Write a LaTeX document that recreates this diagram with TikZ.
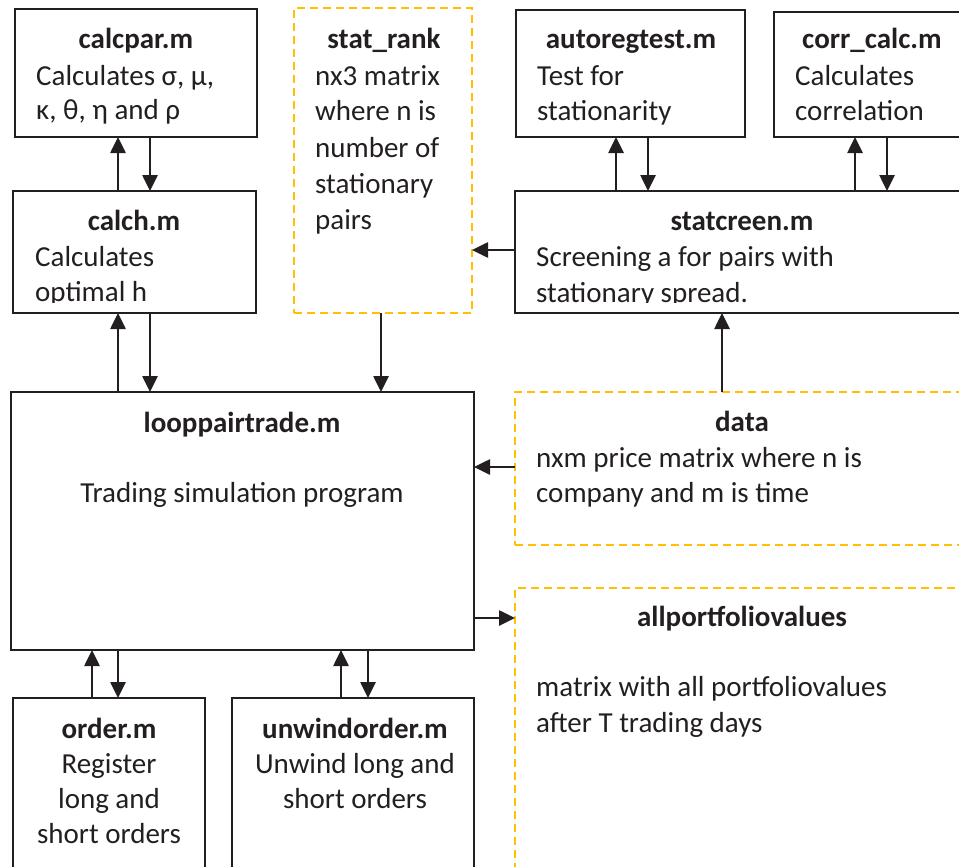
\documentclass[tikz,border=0pt]{standalone}
\usepackage{fontspec}
\setmainfont{Carlito}
\usetikzlibrary{arrows.meta}
\definecolor{ink}{HTML}{231F20}
\definecolor{gold}{HTML}{FFC000}
\begin{document}
\begin{tikzpicture}[x=1pt,y=-1pt,
  every node/.style={font=\fontsize{29}{36}\selectfont},
  box/.style={draw=ink, line width=2.2pt, anchor=north west, inner sep=0pt, outer sep=0pt},
  dbox/.style={draw=gold, line width=2pt, dash pattern=on 8pt off 5pt, anchor=north west, inner sep=0pt, outer sep=0pt},
  ttl/.style={font=\fontsize{29}{36}\selectfont\bfseries, text=ink, anchor=base, inner sep=0pt},
  txt/.style={text=ink, anchor=base west, inner sep=0pt},
  ctxt/.style={text=ink, anchor=base, inner sep=0pt},
  arr/.style={draw=ink, line width=2.6pt, -{Triangle[length=16pt,width=15pt]}}]
\useasboundingbox (0,0) rectangle (959,867);
\clip (0,0) rectangle (959,867);

% boxes
\node[box, minimum width=242pt, minimum height=128pt] (calcpar) at (15,9) {};
\node[box, minimum width=243pt, minimum height=122pt] (calch) at (13,191) {};
\node[dbox, minimum width=178pt, minimum height=305pt] (statrank) at (294,8) {};
\node[box, minimum width=229pt, minimum height=127pt] (autoreg) at (516,10) {};
\node[box, minimum width=200pt, minimum height=125pt] (corrcalc) at (774,12) {};
\node[box, minimum width=460pt, minimum height=122pt] (statcreen) at (515,191) {};
\node[box, minimum width=463pt, minimum height=258pt] (loop) at (11,392) {};
\node[dbox, minimum width=460pt, minimum height=153pt] (data) at (515,392) {};
\node[dbox, minimum width=460pt, minimum height=300pt] (allpf) at (515,588) {};
\node[box, minimum width=192pt, minimum height=200pt] (order) at (13,698) {};
\node[box, minimum width=242pt, minimum height=200pt] (unwind) at (232,698) {};

% texts
\node[ttl] (t-calcpar) at (136,49) {calcpar.m};
\node[txt] (t-calcpar1) at (36,85) {Calculates σ, μ,};
\node[txt] (t-calcpar2) at (36,120) {κ, θ, η and ρ};

\begin{scope}
\clip (13,191) rectangle (256,302);
\node[ttl] (t-calch) at (134,230) {calch.m};
\node[txt] (t-calch1) at (35,266) {Calculates};
\node[txt] (t-calch2) at (35,301) {optimal h};
\end{scope}

\node[ttl] (t-statrank) at (384,49) {stat\_rank};
\node[txt] (t-sr1) at (315,85) {nx3 matrix};
\node[txt] (t-sr2) at (315,121) {where n is};
\node[txt] (t-sr3) at (315,157) {number of};
\node[txt] (t-sr4) at (315,193) {stationary};
\node[txt] (t-sr5) at (315,229) {pairs};

\node[ttl] (t-autoreg) at (631,49) {autoregtest.m};
\node[txt] (t-ar1) at (537,85) {Test for};
\node[txt] (t-ar2) at (537,121) {stationarity};

\node[ttl] (t-corr) at (872,49) {corr\_calc.m};
\node[txt] (t-cc1) at (795,85) {Calculates};
\node[txt] (t-cc2) at (795,121) {correlation};

\begin{scope}
\clip (515,191) rectangle (975,302);
\node[ttl] (t-statcreen) at (742,230) {statcreen.m};
\node[txt] (t-sc1) at (536,266) {Screening a for pairs with};
\node[txt] (t-sc2) at (536,302) {stationary spread.};
\end{scope}

\node[ttl] (t-loop) at (242,432) {looppairtrade.m};
\node[ctxt] (t-loop1) at (242,502) {Trading simulation program};

\node[ttl] (t-data) at (742,431) {data};
\node[txt] (t-d1) at (536,467) {nxm price matrix where n is};
\node[txt] (t-d2) at (536,502) {company and m is time};

\node[ttl] (t-allpf) at (742,626) {allportfoliovalues};
\node[txt] (t-ap1) at (536,696) {matrix with all portfoliovalues};
\node[txt] (t-ap2) at (536,732) {after T trading days};

\node[ttl] (t-order) at (109,738) {order.m};
\node[ctxt] (t-or1) at (109,773) {Register};
\node[ctxt] (t-or2) at (109,808) {long and};
\node[ctxt] (t-or3) at (109,843) {short orders};

\node[ttl] (t-unwind) at (355,738) {unwindorder.m};
\node[ctxt] (t-uw1) at (355,773) {Unwind long and};
\node[ctxt] (t-uw2) at (355,808) {short orders};

% helper coordinates
\coordinate (c92) at (92,0);
\coordinate (c118) at (118,0);
\coordinate (c150) at (150,0);
\coordinate (c341) at (341,0);
\coordinate (c368) at (368,0);
\coordinate (c381) at (381,0);
\coordinate (c616) at (616,0);
\coordinate (c648) at (648,0);
\coordinate (c722) at (722,0);
\coordinate (c855) at (855,0);
\coordinate (c887) at (887,0);
\coordinate (r250) at (0,250);
\coordinate (r467) at (0,467);
\coordinate (r618) at (0,618);

% connectors
\draw[arr] (calch.north -| c118) -- (calcpar.south -| c118);
\draw[arr] (calcpar.south -| c150) -- (calch.north -| c150);
\draw[arr] (loop.north -| c118) -- (calch.south -| c118);
\draw[arr] (calch.south -| c150) -- (loop.north -| c150);
\draw[arr] (statrank.south -| c381) -- (loop.north -| c381);
\draw[arr] (statcreen.west |- r250) -- (statrank.east |- r250);
\draw[arr] (statcreen.north -| c616) -- (autoreg.south -| c616);
\draw[arr] (autoreg.south -| c648) -- (statcreen.north -| c648);
\draw[arr] (statcreen.north -| c855) -- (corrcalc.south -| c855);
\draw[arr] (corrcalc.south -| c887) -- (statcreen.north -| c887);
\draw[arr] (data.north -| c722) -- (statcreen.south -| c722);
\draw[arr] (data.west |- r467) -- (loop.east |- r467);
\draw[arr] (loop.east |- r618) -- (allpf.west |- r618);
\draw[arr] (order.north -| c92) -- (loop.south -| c92);
\draw[arr] (loop.south -| c118) -- (order.north -| c118);
\draw[arr] (unwind.north -| c341) -- (loop.south -| c341);
\draw[arr] (loop.south -| c368) -- (unwind.north -| c368);
\end{tikzpicture}
\end{document}
